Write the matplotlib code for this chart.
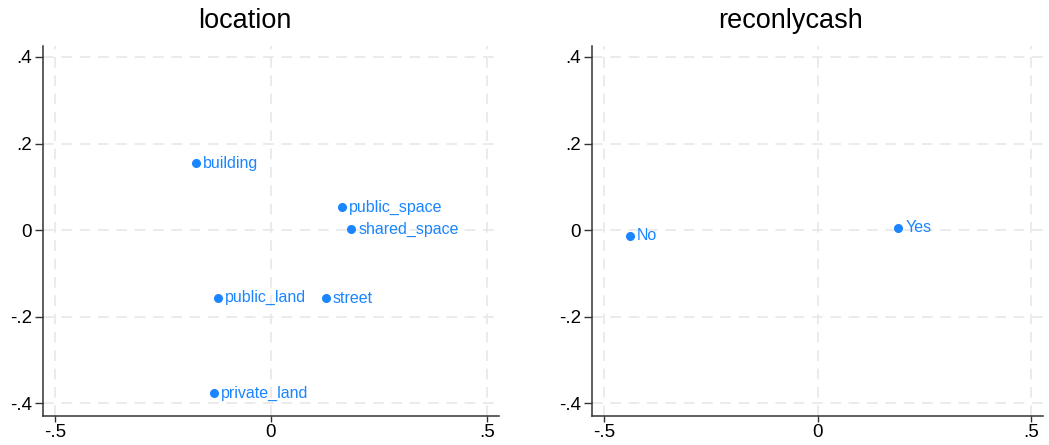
import matplotlib.pyplot as plt

plt.rcParams["font.family"] = ["Liberation Sans", "DejaVu Sans"]

BLUE = "#1a85ff"
GRID = "#e6e6e6"

# coordinates of categories (dim 1, dim 2)
loc_names = ["building", "public_space", "shared_space", "public_land", "street", "private_land"]
loc_x = [-0.173, 0.164, 0.186, -0.122, 0.127, -0.132]
loc_y = [0.154, 0.053, 0.002, -0.156, -0.158, -0.377]

cash_names = ["No", "Yes"]
cash_x = [-0.440, 0.189]
cash_y = [-0.013, 0.005]

xticks = [-0.5, 0, 0.5]
xtick_labels = ["-.5", "0", ".5"]
yticks = [-0.4, -0.2, 0, 0.2, 0.4]
ytick_labels = ["-.4", "-.2", "0", ".2", ".4"]

W, H = 1049, 445
fig = plt.figure(figsize=(W / 100, H / 100), dpi=100)

def panel(rect, title, title_x, names, xs, ys):
    ax = fig.add_axes(rect)
    ax.set_xlim(-0.528, 0.528)
    ax.set_ylim(-0.429, 0.426)
    ax.set_xticks(xticks)
    ax.set_xticklabels(xtick_labels)
    ax.set_yticks(yticks)
    ax.set_yticklabels(ytick_labels)
    ax.grid(True, color=GRID, linestyle=(0, (7, 5)), linewidth=1.1)
    ax.set_axisbelow(True)
    for s in ["top", "right"]:
        ax.spines[s].set_visible(False)
    for s in ["left", "bottom"]:
        ax.spines[s].set_color("#333333")
        ax.spines[s].set_linewidth(1.1)
    ax.tick_params(axis="y", length=6, width=1, color="#333333", labelsize=13.5, pad=2)
    ax.tick_params(axis="x", length=4, width=1, color="#333333", labelsize=13.5, pad=2)
    for lab in ax.get_yticklabels():
        lab.set_verticalalignment("center_baseline")
    ax.plot(xs, ys, "o", color=BLUE, markersize=5.5, linestyle="none", zorder=3)
    for n, x, y in zip(names, xs, ys):
        ax.annotate(n, (x, y), xytext=(5, 0), textcoords="offset points",
                    va="center", ha="left", color=BLUE, fontsize=11.5)
    fig.text(title_x / W, 1 - 21 / H, title, ha="center", va="center", fontsize=19.5)
    return ax

panel([43 / W, 1 - 415.7 / H, 456 / W, 370 / H], "location", 244.5,
      loc_names, loc_x, loc_y)
panel([592 / W, 1 - 415.7 / H, 451 / W, 370 / H], "reconlycash", 791,
      cash_names, cash_x, cash_y)

fig.savefig("out.png", dpi=100)
